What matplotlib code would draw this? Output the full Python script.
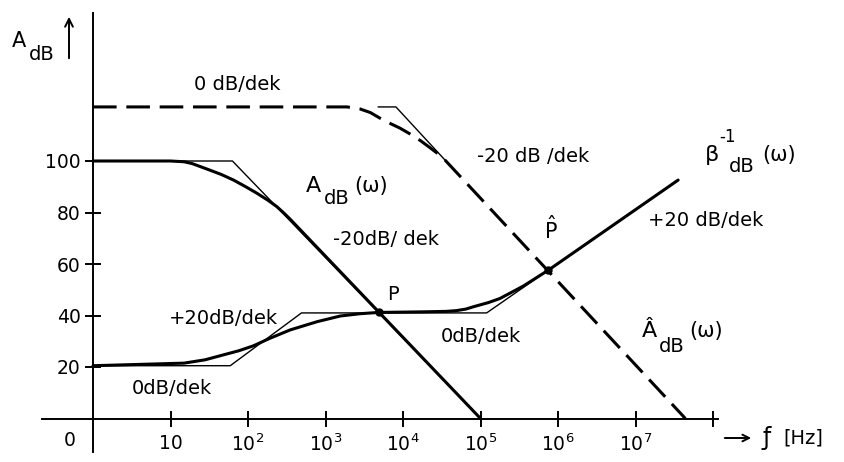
import matplotlib
matplotlib.use("Agg")
import matplotlib.pyplot as plt
from matplotlib.ticker import FixedLocator, FixedFormatter, NullLocator

plt.rcParams['font.family'] = ['DejaVu Sans']
plt.rcParams['mathtext.fontset'] = 'dejavusans'
plt.rcParams['mathtext.default'] = 'regular'
plt.rcParams['lines.scale_dashes'] = False

# --- open-loop gain A_dB(w): smooth curve and its asymptotes ---
a_freq = [1, 10, 15, 19, 22, 30, 45, 65, 91, 130, 180, 235, 290, 350, 1e5]
a_db = [100, 100, 99.7, 99.0, 98.3, 96.8, 94.8, 92.6, 90.2, 87.5, 84.8, 82.3, 79.8, 77.4, 0]
a_asym_freq = [1, 63, 1e5]
a_asym_db = [100, 100, 0]

# --- open-loop gain A^_dB(w) (dashed) ---
ah_freq = [1, 1900, 2800, 3800, 5000, 6800, 9100, 13000, 17000, 22000, 28000, 35000, 4.4e7]
ah_db = [121, 121, 120.2, 118.8, 116.7, 114.6, 112.8, 110.1, 107.8, 105.3, 102.9, 100.3, 0]
ah_asym_freq = [4800, 8100, 35000]
ah_asym_db = [121, 121, 100.3]

# --- inverse feedback factor beta^-1_dB(w) ---
b_freq = [1, 15, 28, 48, 76, 117, 190, 350, 780, 1550, 2800, 4900, 16600, 36000, 49000,
          65000, 81000, 126000, 178000, 355000, 750000, 3.55e7]
b_db = [20.5, 21.5, 22.8, 24.7, 26.3, 28.2, 31.1, 34.4, 37.6, 39.8, 40.7, 41.2, 41.4, 41.6, 41.9,
        42.5, 43.4, 45.0, 46.6, 51.4, 57.6, 92.6]
b_asym_freq = [1, 59, 490, 120000, 3.55e7]
b_asym_db = [20.5, 20.5, 41, 41, 92.6]

# intersection points P and P^
p_freq, p_db = 4900, 41.2
ph_freq, ph_db = 750000, 57.6

# axis ticks
x_ticks = [10, 1e2, 1e3, 1e4, 1e5, 1e6, 1e7, 1e8]
x_tick_labels = ['10', '$10^2$', '$10^3$', '$10^4$', '$10^5$', '$10^6$', '$10^7$', '']
y_ticks = [20, 40, 60, 80, 100]
y_tick_labels = ['20', '40', '60', '80', '100']

# ---------------------------------------------------------------------------
W, H = 845, 462
X0, DEC = 93.0, 77.5      # pixel of f = 1 Hz, pixels per decade
Y0, DBPX = 418.5, 2.575   # pixel of 0 dB, pixels per dB

fig = plt.figure(figsize=(W / 100, H / 100), dpi=100)
ax = fig.add_axes([0, 0, 1, 1])
ax.set_xscale('log')
ax.set_xlim(10 ** (-X0 / DEC), 10 ** ((W - X0) / DEC))
ax.set_ylim((Y0 - H) / DBPX, Y0 / DBPX)
ax.patch.set_alpha(0)


def fx(px):
    return 10 ** ((px - X0) / DEC)


def fy(py):
    return (Y0 - py) / DBPX


# spines drawn as the two crossing axes
for s in ('top', 'right'):
    ax.spines[s].set_visible(False)
ax.spines['left'].set_position(('data', 1))
ax.spines['bottom'].set_position(('data', 0))
ax.spines['left'].set_bounds(fy(452), fy(13))
ax.spines['bottom'].set_bounds(fx(42), fx(718))
for s in ('left', 'bottom'):
    ax.spines[s].set_linewidth(1.4)

ax.xaxis.set_major_locator(FixedLocator(x_ticks))
ax.xaxis.set_major_formatter(FixedFormatter(x_tick_labels))
ax.xaxis.set_minor_locator(NullLocator())
ax.yaxis.set_major_locator(FixedLocator(y_ticks))
ax.yaxis.set_major_formatter(FixedFormatter(y_tick_labels))
ax.yaxis.set_minor_locator(NullLocator())
ax.tick_params(axis='both', direction='inout', length=12, width=1.4, labelsize=13.5)
ax.tick_params(axis='x', pad=5)
ax.tick_params(axis='y', pad=3)

# asymptotes (thin)
ax.plot(a_asym_freq, a_asym_db, color='black', lw=1.0, zorder=2)
ax.plot(ah_asym_freq, ah_asym_db, color='black', lw=1.0, zorder=2)
ax.plot(b_asym_freq, b_asym_db, color='black', lw=1.0, zorder=2)

# real curves (thick)
ax.plot(a_freq, a_db, color='black', lw=2.2, zorder=3, solid_capstyle='round',
        solid_joinstyle='round')
ax.plot(b_freq, b_db, color='black', lw=2.2, zorder=3, solid_capstyle='round',
        solid_joinstyle='round')
ax.plot(ah_freq, ah_db, color='black', lw=2.2, ls=(0, (17, 7)), zorder=3)

ax.plot([p_freq, ph_freq], [p_db, ph_db], 'o', color='black', ms=5, zorder=4)


def px(x, y):
    return (x / W, 1 - y / H)


def label(x, y, s, size=14, ha='center', va='center'):
    fig.text(*px(x, y), s, fontsize=size, ha=ha, va=va)


def pieces(parts):
    # each part: (x, baseline y, text, size)
    for x, y, s, size in parts:
        fig.text(*px(x, y), s, fontsize=size, ha='left', va='baseline')


# axis annotations
ax.annotate('', xy=px(69, 14), xytext=px(69, 61), xycoords='figure fraction',
            textcoords='figure fraction',
            arrowprops=dict(arrowstyle='->', lw=1.4, mutation_scale=14, color='black'))
pieces([(12, 47, 'A', 15), (29, 60, 'dB', 14)])
label(70, 441, '0', size=13.5)
ax.annotate('', xy=px(754, 438), xytext=px(722, 438), xycoords='figure fraction',
            textcoords='figure fraction',
            arrowprops=dict(arrowstyle='->', lw=1.4, mutation_scale=12, color='black'))
label(767, 438, 'ƒ', size=17)
label(803, 438, '[Hz]', size=14)

# curve names
pieces([(306, 192, 'A', 16), (324, 204, 'dB', 14), (354, 192, '(ω)', 15)])
pieces([(642, 337, 'Â', 16), (659, 352, 'dB', 14), (689, 337, '(ω)', 15)])
pieces([(705, 161, 'β', 16), (719, 142, '-1', 12), (729, 172, 'dB', 14), (762, 161, '(ω)', 15)])
label(393, 295, 'P', size=14)
label(551, 229, r'$\hat{P}$', size=15)

# slope annotations
label(237, 85, '0 dB/dek')
label(533, 157, '-20 dB /dek')
label(386, 240, '-20dB/ dek')
label(706, 221, '+20 dB/dek')
label(223, 318, '+20dB/dek')
label(481, 336, '0dB/dek')
label(172, 388, '0dB/dek')

fig.savefig('out.png', dpi=100)
